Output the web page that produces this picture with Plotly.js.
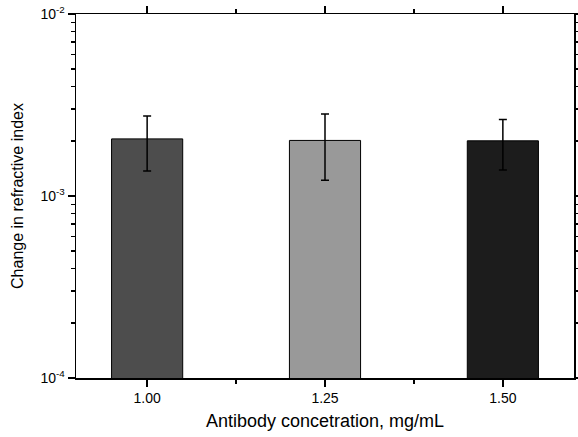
<!DOCTYPE html>
<html>
<head>
<meta charset="utf-8">
<script src="https://cdn.plot.ly/plotly-3.0.1.min.js"></script>
<style>
  html, body { margin: 0; padding: 0; background: #fff; }
  #chart { width: 578px; height: 437px; }
</style>
</head>
<body>
<div id="chart"></div>
<script>
// Antibody concentration (mg/mL) and the measured change in refractive index
const concentrations = [1.00, 1.25, 1.50];
const concLabels = ['1.00', '1.25', '1.50'];
const deltaN = [2.06e-3, 2.02e-3, 2.01e-3];
const deltaNErr = [0.69e-3, 0.80e-3, 0.62e-3];
const barColors = ['#4d4d4d', '#999999', '#1c1c1c'];

// Decade tick labels for the log axis
const yTickVals = [1e-4, 1e-3, 1e-2];
const yTickText = ['10<sup>-4</sup>', '10<sup>-3</sup>', '10<sup>-2</sup>'];

const font = 'Liberation Sans, Arial, sans-serif';

const trace = {
  type: 'bar',
  x: concentrations,
  y: deltaN,
  width: 0.1,
  marker: { color: barColors, line: { color: '#000', width: 1 } },
  error_y: { type: 'data', array: deltaNErr, visible: true, color: '#000', thickness: 1.5, width: 4 },
  hoverinfo: 'x+y'
};

const layout = {
  width: 578,
  height: 437,
  margin: { l: 76, r: 4, t: 14, b: 59 },
  paper_bgcolor: '#fff',
  plot_bgcolor: '#fff',
  showlegend: false,
  font: { family: font, color: '#000', size: 14 },
  xaxis: {
    range: [0.9, 1.6],
    tickmode: 'array',
    tickvals: concentrations,
    ticktext: concLabels,
    ticks: 'outside', ticklen: 7, tickwidth: 1.5, tickcolor: '#000',
    minor: { tickmode: 'linear', tick0: 1.0, dtick: 0.125, ticks: 'outside', ticklen: 4, tickwidth: 1.5, tickcolor: '#000' },
    showline: true, linecolor: '#000', linewidth: 1.5, mirror: 'ticks',
    showgrid: false, zeroline: false,
    tickfont: { size: 14, family: font },
    title: { text: 'Antibody concetration, mg/mL', font: { size: 18, family: font }, standoff: 9 }
  },
  yaxis: {
    type: 'log',
    range: [-4, -2],
    tickmode: 'array',
    tickvals: yTickVals,
    ticktext: yTickText,
    ticks: 'outside', ticklen: 7, tickwidth: 1.5, tickcolor: '#000',
    minor: { dtick: 'D1', ticks: 'outside', ticklen: 4, tickwidth: 1.5, tickcolor: '#000', showgrid: false },
    showline: true, linecolor: '#000', linewidth: 1.5, mirror: 'ticks',
    showgrid: false, zeroline: false,
    tickfont: { size: 14, family: font },
    title: { text: 'Change in refractive index', font: { size: 16, family: font }, standoff: 13 }
  }
};

Plotly.newPlot('chart', [trace], layout, { displayModeBar: false, staticPlot: true });
</script>
</body>
</html>
